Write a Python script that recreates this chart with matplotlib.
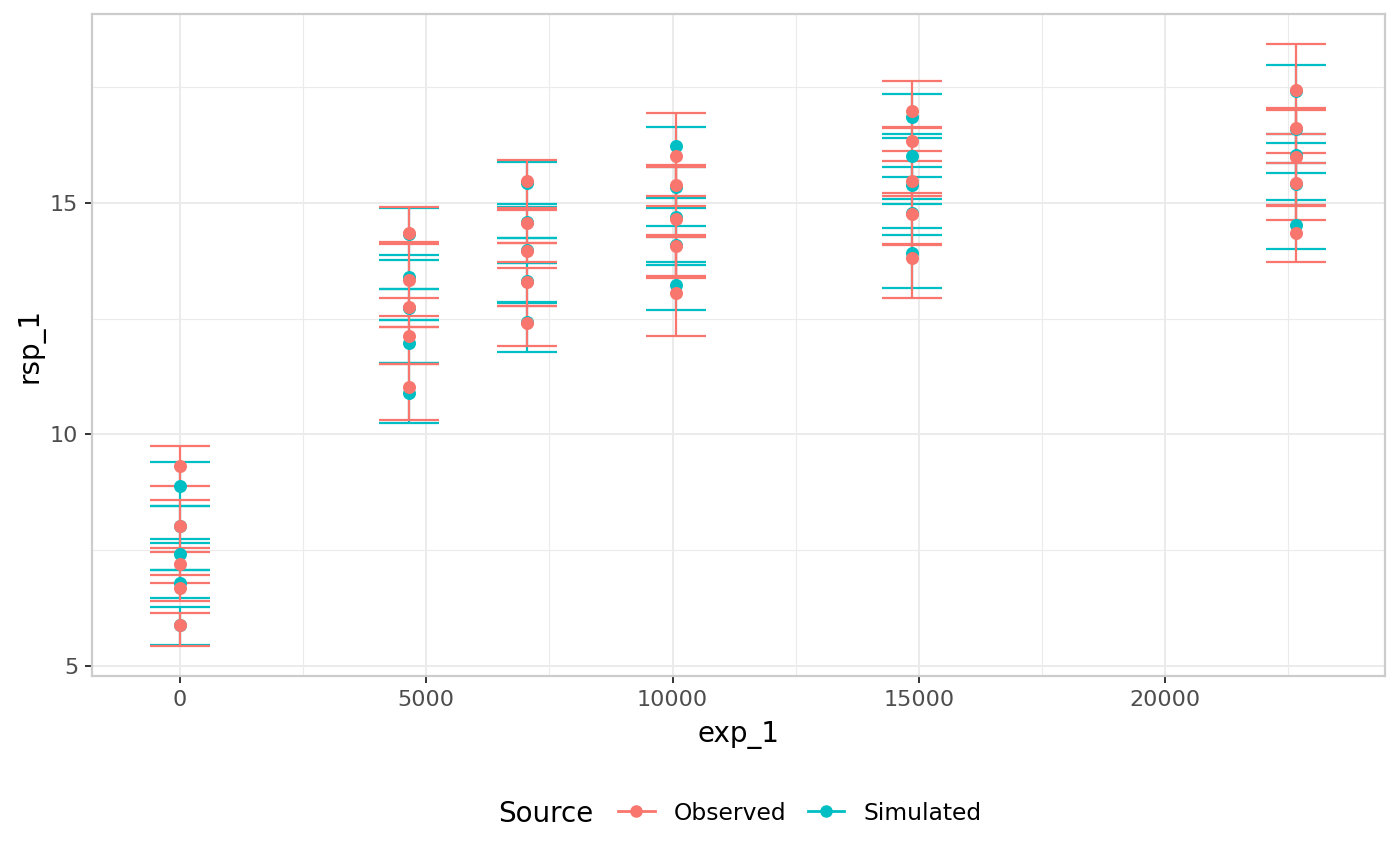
import matplotlib
matplotlib.use("Agg")
import matplotlib.pyplot as plt
from matplotlib.lines import Line2D
import numpy as np

# exposure levels (x)
exp_levels = [0, 4640, 7040, 10070, 14860, 22670]

# observed: response and errorbar limits per exposure level
obs_rsp = [[9.32, 8.02, 7.20, 6.68, 5.89],
           [14.35, 13.34, 12.76, 12.13, 11.03],
           [15.48, 14.57, 13.97, 13.30, 12.40],
           [16.02, 15.39, 14.65, 14.08, 13.05],
           [16.99, 16.34, 15.48, 14.76, 13.82],
           [17.44, 16.61, 16.00, 15.43, 14.35]]
obs_hi = [[9.75, 8.59, 7.54, 6.97, 6.14],
          [14.92, 14.11, 12.94, 12.32, 11.52],
          [15.93, 14.85, 14.14, 13.59, 12.78],
          [16.95, 15.82, 15.78, 14.31, 14.26],
          [17.64, 16.61, 16.12, 15.22, 14.09],
          [18.43, 17.06, 17.00, 15.86, 14.94]]
obs_lo = [[8.89, 7.46, 6.79, 6.41, 5.43],
          [14.15, 12.56, 12.32, 11.52, 10.31],
          [14.88, 14.14, 13.73, 12.78, 11.92],
          [15.16, 14.94, 13.43, 13.37, 12.13],
          [16.63, 15.91, 15.14, 14.11, 12.94],
          [16.48, 16.07, 14.96, 14.63, 13.73]]

# simulated: response and errorbar limits per exposure level
sim_rsp = [[8.89, 8.02, 7.42, 6.79, 5.89],
           [14.33, 13.40, 12.73, 11.97, 10.89],
           [15.43, 14.58, 13.98, 13.31, 12.42],
           [16.23, 15.34, 14.70, 14.09, 13.23],
           [16.86, 16.02, 15.39, 14.78, 13.91],
           [17.42, 16.60, 16.04, 15.41, 14.52]]
sim_hi = [[9.41, 8.46, 7.74, 7.07, 6.27],
          [14.89, 13.77, 13.14, 12.47, 11.54],
          [15.89, 14.92, 14.24, 13.70, 12.83],
          [16.65, 15.80, 15.10, 14.50, 13.73],
          [17.35, 16.49, 15.77, 15.08, 14.45],
          [17.98, 17.03, 16.48, 15.86, 15.06]]
sim_lo = [[8.46, 7.65, 7.07, 6.46, 5.45],
          [13.88, 13.14, 12.47, 11.54, 10.25],
          [14.98, 14.24, 13.70, 12.87, 11.78],
          [15.78, 14.89, 14.27, 13.66, 12.69],
          [16.40, 15.57, 14.97, 14.31, 13.16],
          [17.03, 16.29, 15.64, 14.96, 14.01]]

col_obs = "#F8766D"
col_sim = "#00BFC4"


def flat(groups, vals):
    xs, ys = [], []
    for x, v in zip(groups, vals):
        xs += [x] * len(v)
        ys += list(v)
    return np.array(xs), np.array(ys)


W, H = 1400, 865
fig = plt.figure(figsize=(14, 8.65), dpi=100)
ax = fig.add_axes([92 / W, 1 - 676 / H, (1385 - 92) / W, (676 - 14) / H])

series = [("Simulated", sim_rsp, sim_lo, sim_hi, col_sim),
          ("Observed", obs_rsp, obs_lo, obs_hi, col_obs)]

# error bars first, then points on top
for name, rsp, lo, hi, c in series:
    x, y = flat(exp_levels, rsp)
    _, ylo = flat(exp_levels, lo)
    _, yhi = flat(exp_levels, hi)
    ax.errorbar(x, y, yerr=[y - ylo, yhi - y], fmt="none", ecolor=c,
                elinewidth=1.6, capsize=21.6, capthick=1.6, zorder=3)
for name, rsp, lo, hi, c in series:
    x, y = flat(exp_levels, rsp)
    ax.scatter(x, y, s=88, color=c, zorder=4, linewidths=0)

ax.set_xlim(-1787, 24467)
ax.set_ylim(4.784, 19.08)
ax.set_xticks([0, 5000, 10000, 15000, 20000])
ax.set_xticks([2500, 7500, 12500, 17500, 22500], minor=True)
ax.set_yticks([5, 10, 15])
ax.set_yticks([7.5, 12.5, 17.5], minor=True)
ax.grid(which="major", color="#EBEBEB", lw=1.4, zorder=0)
ax.grid(which="minor", color="#EBEBEB", lw=0.8, zorder=0)
ax.set_axisbelow(True)
for s in ax.spines.values():
    s.set_color("#CCCCCC")
    s.set_linewidth(1.6)
ax.tick_params(which="major", length=4.8, width=1.4, color="#333333",
               labelcolor="#4D4D4D", labelsize=16, pad=5)
ax.tick_params(which="minor", length=0)

ax.set_xlabel("exp_1", fontsize=20, labelpad=8)
ax.set_ylabel("rsp_1", fontsize=20, labelpad=4)

fig.text(498 / W, 1 - 814 / H, "Source", fontsize=20, va="center", ha="left")
handles = [Line2D([], [], color=col_obs, lw=2, marker="o", markersize=8),
           Line2D([], [], color=col_sim, lw=2, marker="o", markersize=8)]
fig.legend(handles, ["Observed", "Simulated"], loc="center left",
           bbox_to_anchor=(597 / W, 1 - 813 / H), ncol=2, frameon=False,
           fontsize=16.8, handlelength=1.58, handletextpad=0.82,
           columnspacing=0.9)

fig.savefig("out.png", dpi=100)
